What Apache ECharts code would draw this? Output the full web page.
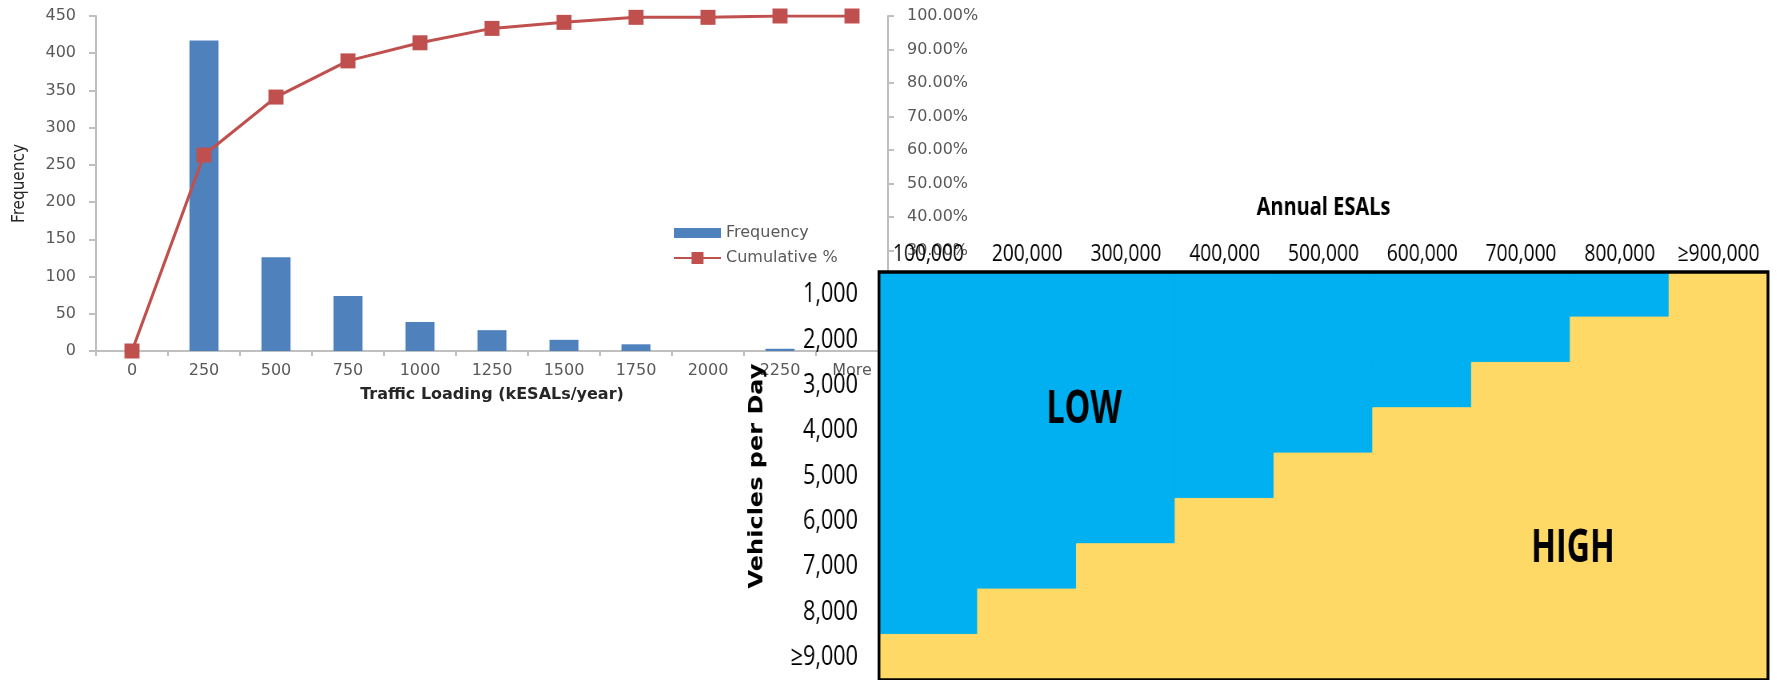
<!DOCTYPE html>
<html>
<head>
<meta charset="utf-8">
<title>Traffic loading distribution and ESAL / volume classes</title>
<script src="https://cdn.jsdelivr.net/npm/echarts@6/dist/echarts.min.js"></script>
<style>
  html, body { margin: 0; padding: 0; background: #ffffff; overflow: hidden; }
  #stage { position: relative; width: 1777px; height: 680px; overflow: hidden; }
  #histogram { position: absolute; left: 0; top: 0; width: 1777px; height: 680px; }
  /* the class matrix uses tall, condensed lettering: its panel is laid out wider and squeezed horizontally */
  #matrix { position: absolute; left: 0; top: 0; height: 680px; transform-origin: 0 0; }
</style>
</head>
<body>
<div id="stage">
  <div id="histogram"></div>
  <div id="matrix"></div>
</div>
<script>
// ---- Histogram of traffic loading ----
const binLabels = ['0', '250', '500', '750', '1000', '1250', '1500', '1750', '2000', '2250', 'More'];
const frequency = [0, 417, 126, 74, 39, 28, 15, 9, 0, 3, 0];
const cumulativeShare = [0, 0.585, 0.758, 0.866, 0.920, 0.963, 0.981, 0.996, 0.996, 1.0, 1.0];
const frequencyTicks = { min: 0, max: 450, step: 50 };
const shareTicks = { min: 0, max: 1, step: 0.1 };

// ---- Classification matrix: Annual ESALs (columns) by Vehicles per Day (rows) ----
const esalLabels = ['100,000', '200,000', '300,000', '400,000', '500,000', '600,000', '700,000', '800,000', '\u2265900,000'];
const vehicleLabels = ['1,000', '2,000', '3,000', '4,000', '5,000', '6,000', '7,000', '8,000', '\u22659,000'];
// L = LOW, H = HIGH; one string per vehicle row, one letter per ESAL column
const classRows = [
  'LLLLLLLLH',
  'LLLLLLLHH',
  'LLLLLLHHH',
  'LLLLLHHHH',
  'LLLLHHHHH',
  'LLLHHHHHH',
  'LLHHHHHHH',
  'LHHHHHHHH',
  'HHHHHHHHH'
];
const classNames = ['LOW', 'HIGH'];
const classColors = ['#00B0F0', '#FFD966'];

// one heatmap cell per (column, row); a same-coloured edge closes hairline seams between cells
const cells = [];
classRows.forEach((row, r) => {
  row.split('').forEach((ch, c) => {
    const k = ch === 'L' ? 0 : 1;
    cells.push({ value: [c, r, k], itemStyle: { borderColor: classColors[k], borderWidth: 1 } });
  });
});

const greyText = '#595959';
const greyLine = '#BFBFBF';
const wideFont = '"DejaVu Sans", Verdana, sans-serif';
const condensedFont = '"DejaVu Sans Condensed", "Liberation Sans", sans-serif';
const matrixFont = '"Open Sans", "Liberation Sans", sans-serif';

// ================= Histogram + cumulative line =================
const histogram = echarts.init(document.getElementById('histogram'), null, { renderer: 'canvas' });
histogram.setOption({
  animation: false,
  backgroundColor: '#ffffff',
  grid: { left: 96, top: 16, width: 792, height: 335, containLabel: false },
  legend: {
    orient: 'vertical',
    left: 668,
    top: 220,
    itemWidth: 47,
    itemHeight: 15,
    itemGap: 9,
    textStyle: { color: greyText, fontSize: 16, fontFamily: wideFont },
    data: [
      { name: 'Frequency', icon: 'path://M0,0H47V10H0Z' },
      { name: 'Cumulative %' }
    ]
  },
  xAxis: {
    type: 'category', data: binLabels,
    name: 'Traffic Loading (kESALs/year)', nameLocation: 'middle', nameGap: 36,
    nameTextStyle: { color: '#262626', fontSize: 16, fontWeight: 'bold', fontFamily: wideFont },
    axisLine: { lineStyle: { color: greyLine, width: 2 } },
    axisTick: { show: true, length: 5, lineStyle: { color: greyLine, width: 2 } },
    axisLabel: { color: greyText, fontSize: 16, fontFamily: wideFont, margin: 12 },
    splitLine: { show: false }
  },
  yAxis: [
    {
      type: 'value',
      min: frequencyTicks.min, max: frequencyTicks.max, interval: frequencyTicks.step,
      name: 'Frequency', nameLocation: 'middle', nameGap: 68,
      nameTextStyle: { color: '#262626', fontSize: 17, fontFamily: condensedFont },
      axisLine: { show: true, lineStyle: { color: greyLine, width: 2 } },
      axisTick: { show: true, length: 7, lineStyle: { color: greyLine, width: 2 } },
      axisLabel: { color: greyText, fontSize: 16, fontFamily: wideFont, margin: 20 },
      splitLine: { show: false }
    },
    {
      type: 'value', position: 'right',
      min: shareTicks.min, max: shareTicks.max, interval: shareTicks.step,
      axisLine: { show: true, lineStyle: { color: greyLine, width: 2 } },
      axisTick: { show: true, length: 6, lineStyle: { color: greyLine, width: 2 } },
      axisLabel: {
        color: greyText, fontSize: 16, fontFamily: wideFont, margin: 19,
        formatter: v => (v * 100).toFixed(2) + '%'
      },
      splitLine: { show: false }
    }
  ],
  series: [
    {
      name: 'Frequency', type: 'bar', yAxisIndex: 0,
      data: frequency, barWidth: 29,
      itemStyle: { color: '#4F81BD' }
    },
    {
      name: 'Cumulative %', type: 'line', yAxisIndex: 1,
      data: cumulativeShare,
      symbol: 'rect', symbolSize: 15,
      lineStyle: { color: '#C0504D', width: 3 },
      itemStyle: { color: '#C0504D' }
    }
  ]
});

// ================= LOW / HIGH class matrix =================
const squeeze = 0.8;
const px = v => v / squeeze; // horizontal layout value before the squeeze
const matrixEl = document.getElementById('matrix');
matrixEl.style.width = px(1777) + 'px';
matrixEl.style.transform = 'scaleX(' + squeeze + ')';

const matrix = echarts.init(matrixEl, null, { renderer: 'canvas' });
matrix.setOption({
  animation: false,
  backgroundColor: 'transparent',
  grid: {
    left: px(879), top: 272, width: px(889), height: 412, containLabel: false,
    show: true, borderColor: '#000000', borderWidth: 3.5, backgroundColor: 'transparent', z: 10
  },
  xAxis: {
    type: 'category', data: esalLabels, position: 'top',
    name: 'Annual ESALs', nameLocation: 'middle', nameGap: 52,
    nameTextStyle: { color: '#000000', fontSize: 25, fontWeight: 'bold', fontFamily: matrixFont },
    axisLine: { show: false },
    axisTick: { show: false },
    axisLabel: { color: '#000000', fontSize: 24, fontFamily: matrixFont, margin: 6, interval: 0 },
    splitLine: { show: false }
  },
  yAxis: {
    type: 'category', data: vehicleLabels, inverse: true,
    name: 'Vehicles per Day', nameLocation: 'middle', nameGap: px(112), nameRotate: 90,
    nameTextStyle: { color: '#000000', fontSize: 24, fontWeight: 'bold', fontFamily: wideFont },
    axisLine: { show: false },
    axisTick: { show: false },
    axisLabel: { color: '#000000', fontSize: 27, fontFamily: matrixFont, margin: px(21), interval: 0 },
    splitLine: { show: false }
  },
  visualMap: {
    type: 'piecewise',
    show: false,
    dimension: 2,
    pieces: [
      { value: 0, label: classNames[0], color: classColors[0] },
      { value: 1, label: classNames[1], color: classColors[1] }
    ]
  },
  series: [
    {
      name: 'Class', type: 'heatmap',
      data: cells,
      emphasis: { disabled: true }
    }
  ],
  graphic: [
    {
      type: 'text', x: px(1084), y: 410, scaleX: 0.86, z: 20,
      style: { text: classNames[0], fill: '#000000', font: 'bold 47px ' + matrixFont, align: 'center', verticalAlign: 'middle' }
    },
    {
      type: 'text', x: px(1573), y: 549, scaleX: 0.86, z: 20,
      style: { text: classNames[1], fill: '#000000', font: 'bold 47px ' + matrixFont, align: 'center', verticalAlign: 'middle' }
    }
  ]
});
</script>
</body>
</html>
